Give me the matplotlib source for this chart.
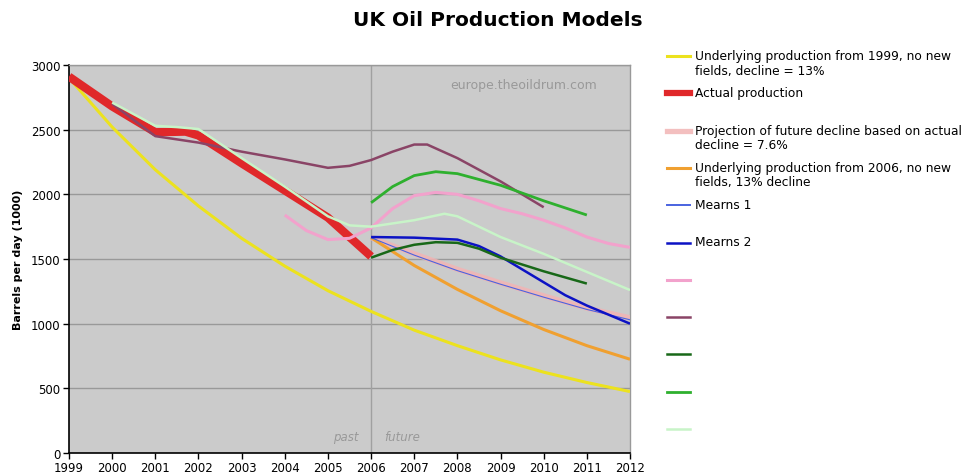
import matplotlib
matplotlib.use("Agg")
import matplotlib.pyplot as plt
from matplotlib.lines import Line2D

W, H = 973, 477

# ---- data (barrels per day, 1000s) ----
yellow_x = [1999, 2000, 2001, 2002, 2003, 2004, 2005, 2006, 2007, 2008, 2009, 2010, 2011, 2012]
yellow_y = [2900, 2520, 2190, 1910, 1660, 1445, 1255, 1095, 950, 830, 720, 625, 545, 475]

actual_x = [1999, 2000, 2001, 2001.7, 2002, 2003, 2004, 2005, 2006]
actual_y = [2910, 2680, 2480, 2485, 2455, 2240, 2030, 1820, 1520]

proj_x = [2006, 2007, 2008, 2009, 2010, 2011, 2012]
proj_y = [1665, 1540, 1420, 1315, 1215, 1120, 1045]

orange_x = [2006, 2007, 2008, 2009, 2010, 2011, 2012]
orange_y = [1665, 1450, 1265, 1100, 955, 830, 725]

mearns1_x = [2006, 2007, 2008, 2009, 2010, 2011, 2012]
mearns1_y = [1665, 1530, 1410, 1305, 1205, 1110, 1030]

mearns2_x = [2006, 2007, 2008, 2008.5, 2009, 2009.5, 2010, 2010.5, 2011, 2011.5, 2012]
mearns2_y = [1670, 1665, 1650, 1600, 1520, 1420, 1320, 1220, 1140, 1070, 1000]

pink_x = [2004, 2004.5, 2005, 2005.5, 2006, 2006.5, 2007, 2007.5, 2008, 2008.5,
          2009, 2009.5, 2010, 2010.5, 2011, 2011.5, 2012]
pink_y = [1840, 1720, 1650, 1660, 1740, 1890, 1990, 2015, 2000, 1950,
          1890, 1850, 1800, 1740, 1670, 1620, 1590]

purple_x = [2000, 2001, 2002, 2003, 2004, 2005, 2005.5, 2006, 2006.5, 2007, 2007.3, 2008, 2009, 2010]
purple_y = [2700, 2450, 2400, 2330, 2270, 2205, 2220, 2265, 2330, 2385, 2385, 2280, 2100, 1900]

dkgreen_x = [2006, 2006.5, 2007, 2007.5, 2008, 2008.5, 2009, 2010, 2011]
dkgreen_y = [1510, 1570, 1610, 1630, 1625, 1580, 1510, 1405, 1310]

green_x = [2006, 2006.5, 2007, 2007.5, 2008, 2009, 2010, 2011]
green_y = [1935, 2060, 2145, 2175, 2160, 2070, 1950, 1840]

pale_x = [2000, 2001, 2001.5, 2002, 2003, 2004, 2005, 2005.5, 2006, 2007, 2007.7,
          2008, 2009, 2010, 2011, 2012]
pale_y = [2710, 2530, 2520, 2505, 2280, 2060, 1830, 1760, 1750, 1800, 1850,
          1830, 1670, 1540, 1400, 1260]

labels = [
    "Underlying production from 1999, no new\nfields, decline = 13%",
    "Actual production",
    "Projection of future decline based on actual\ndecline = 7.6%",
    "Underlying production from 2006, no new\nfields, 13% decline",
    "Mearns 1",
    "Mearns 2",
    "", "", "", "", "",
]

series = [
    (yellow_x, yellow_y, "#ece21e", 2.2, 1.0),
    (actual_x, actual_y, "#e0282a", 6.0, 1.0),
    (proj_x, proj_y, "#f2b4b4", 3.8, 0.85),
    (orange_x, orange_y, "#f0a030", 2.2, 1.0),
    (mearns1_x, mearns1_y, "#4a63e0", 0.8, 1.0),
    (mearns2_x, mearns2_y, "#0c12c4", 1.8, 1.0),
    (pink_x, pink_y, "#f2a2cc", 2.2, 1.0),
    (purple_x, purple_y, "#8a4466", 1.8, 1.0),
    (dkgreen_x, dkgreen_y, "#186818", 1.8, 1.0),
    (green_x, green_y, "#2eb02e", 2.0, 1.0),
    (pale_x, pale_y, "#c8f4c8", 1.8, 1.0),
]

fig = plt.figure(figsize=(W / 100, H / 100), dpi=100)
fig.patch.set_facecolor("white")

# plot area in pixels: left 69, right 630, top 66, bottom 454
ax = fig.add_axes([69 / W, 1 - 454 / H, (630 - 69) / W, (454 - 66) / H])
ax.set_facecolor("#cbcbcb")

ax.set_xlim(1999, 2012)
ax.set_ylim(0, 3000)
ax.set_xticks(range(1999, 2013))
ax.set_yticks(range(0, 3001, 500))
ax.yaxis.grid(True, color="#999999", linewidth=1)
ax.set_axisbelow(True)
ax.axvline(2006, color="#a0a0a0", linewidth=1, zorder=1)

for x, y, c, lw, a in series:
    ax.plot(x, y, color=c, linewidth=lw, alpha=a, solid_capstyle="butt",
            solid_joinstyle="round", zorder=3)

ax.tick_params(direction="out", length=4, width=1, colors="black",
               labelsize=8.5, pad=2)
for side in ("left", "bottom"):
    ax.spines[side].set_color("black")
    ax.spines[side].set_linewidth(1.2)
for side in ("top", "right"):
    ax.spines[side].set_color("#999999")
    ax.spines[side].set_linewidth(1)

fig.text(524 / W, 1 - 86 / H, "europe.theoildrum.com", fontsize=9,
         color="#999999", ha="center", va="center")
ax.text(2005.7, 75, "past", fontsize=8.5, color="#999999", style="italic",
        ha="right", va="bottom")
ax.text(2006.3, 75, "future", fontsize=8.5, color="#999999", style="italic",
        ha="left", va="bottom")

ax.set_ylabel("Barrels per day (1000)", fontsize=8, fontweight="bold", labelpad=6)

fig.text(498 / W, 1 - 20 / H, "UK Oil Production Models", fontsize=14.5,
         fontweight="bold", ha="center", va="center")

# legend drawn by hand on the right
for i, ((x, y, c, lw, a), lab) in enumerate(zip(series, labels)):
    py = 57 + i * 37.3
    fy = 1 - py / H
    fig.add_artist(Line2D([667 / W, 690 / W], [fy, fy], color=c,
                          linewidth=max(lw, 1.4) if lw < 5 else 4.5, alpha=a,
                          transform=fig.transFigure))
    if lab:
        fig.text(695 / W, 1 - (py - 7) / H, lab, fontsize=8.8, va="top",
                 ha="left", linespacing=1.15)

fig.savefig("out.png", dpi=100)
